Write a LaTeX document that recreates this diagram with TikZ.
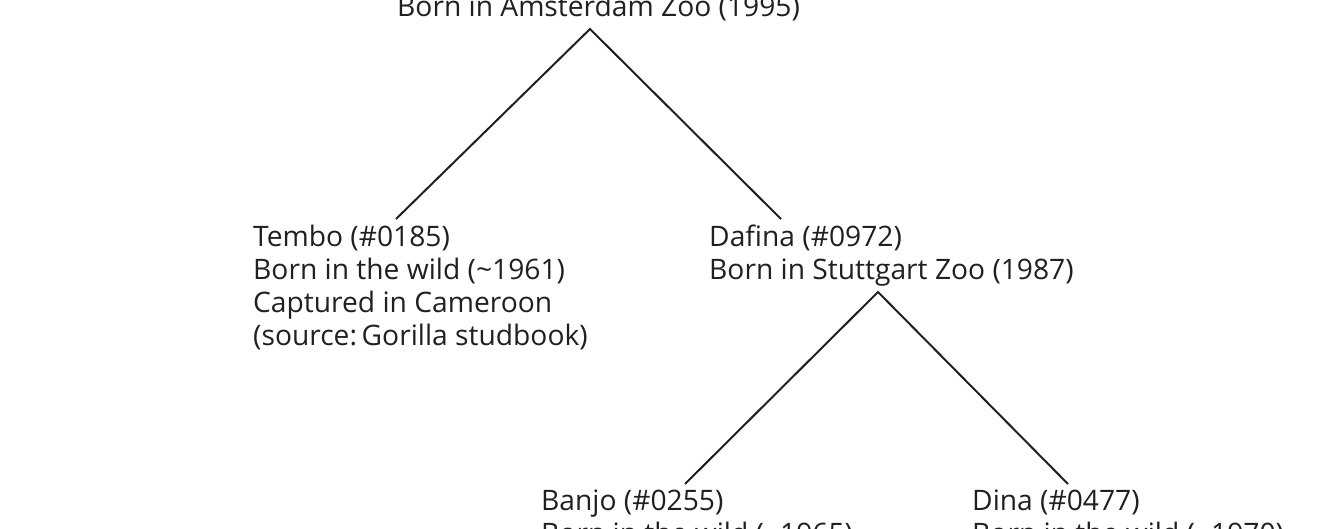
\documentclass[tikz,border=0pt]{standalone}
\usepackage{fontspec}
\setmainfont{Open Sans}
\usetikzlibrary{positioning}
\definecolor{inkgray}{RGB}{35,31,32}
\newcommand{\entrylines}[1]{\begin{tabular}[t]{@{}l@{}}#1\end{tabular}}

\begin{document}
\begin{tikzpicture}[x=1pt, y=-1pt]
\tikzstyle{entry} = [anchor=base west, inner sep=0pt, text=inkgray, font=\fontsize{28.2}{33}\selectfont]
\tikzstyle{branch} = [draw=inkgray, line width=2pt]

\useasboundingbox (0,0) rectangle (1328,528);
\clip (0,0) rectangle (1328,528);

\node[entry] (amsterdam) at (397,16.5) {Born in Amsterdam Zoo (1995)};
\node[entry] (tembo) at (253,246) {\entrylines{Tembo (\#0185)\\Born in the wild (\textasciitilde1961)\\Captured in Cameroon\\(source:\,Gorilla studbook)}};
\node[entry] (dafina) at (709,246) {\entrylines{Dafina (\#0972)\\Born in Stuttgart Zoo (1987)}};
\node[entry] (banjo) at (541,510) {\entrylines{Banjo (\#0255)\\Born in the wild (\textasciitilde1965)}};
\node[entry] (dina) at (972,510) {\entrylines{Dina (\#0477)\\Born in the wild (\textasciitilde1970)}};

\coordinate (amsterdam-fork) at (590,29);
\coordinate (tembo-top) at (396,219);
\coordinate (dafina-top) at (781,219);
\coordinate (dafina-fork) at (878,292);
\coordinate (banjo-top) at (685,484);
\coordinate (dina-top) at (1068,484);

\draw [branch] (tembo-top) -- (amsterdam-fork) -- (dafina-top);
\draw [branch] (banjo-top) -- (dafina-fork) -- (dina-top);
\end{tikzpicture}
\end{document}
